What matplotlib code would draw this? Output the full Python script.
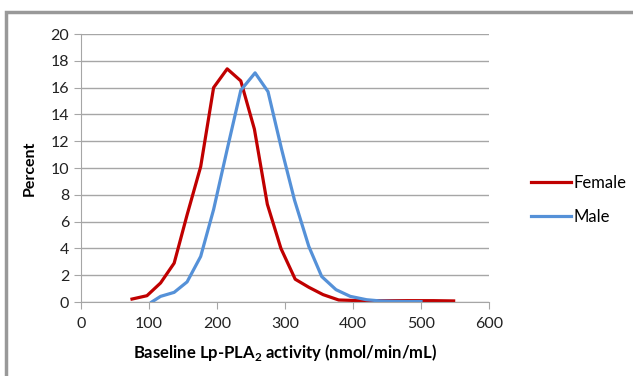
import matplotlib.pyplot as plt
from matplotlib.patches import Rectangle

plt.rcParams['font.family'] = ['Lato', 'DejaVu Sans']
plt.rcParams['mathtext.fontset'] = 'custom'
plt.rcParams['mathtext.rm'] = 'Lato'
plt.rcParams['mathtext.bf'] = 'Lato:bold'

# data
female_x = [75, 97, 117, 137, 156, 176, 195, 215, 235, 255, 274, 294, 315, 335, 356, 379,
            398, 418, 438, 458, 478, 498, 518, 548]
female_y = [0.22, 0.47, 1.42, 2.9, 6.5, 10.1, 16.0, 17.4, 16.5, 12.9, 7.3, 4.0, 1.7, 1.1, 0.55, 0.15,
            0.12, 0.1, 0.1, 0.1, 0.1, 0.1, 0.1, 0.08]
male_x = [104, 117, 137, 156, 176, 195, 215, 235, 256, 275, 295, 314, 335, 354, 375, 396,
          420, 440, 460, 480, 500]
male_y = [0.0, 0.42, 0.72, 1.5, 3.4, 6.9, 11.4, 15.8, 17.1, 15.7, 11.4, 7.6, 4.15, 1.9, 0.92, 0.42,
          0.17, 0.08, 0.05, 0.03, 0.03]
x_ticks = [0, 100, 200, 300, 400, 500, 600]
y_ticks = list(range(0, 21, 2))

grid_col = '#a6a6a6'

fig = plt.figure(figsize=(6.33, 3.76), dpi=100)
ax = fig.add_axes([81 / 633, 1 - 302 / 376, 408 / 633, 268 / 376])

ax.plot(female_x, female_y, color='#C00000', lw=2.3, label='Female')
ax.plot(male_x, male_y, color='#5591D8', lw=2.3, label='Male')

ax.set_xlim(0, 600)
ax.set_ylim(0, 20)
ax.set_xticks(x_ticks)
ax.set_yticks(y_ticks)
ax.yaxis.grid(True, color=grid_col, lw=1)
ax.set_axisbelow(True)
for s in ['top', 'right']:
    ax.spines[s].set_visible(False)
for s in ['left', 'bottom']:
    ax.spines[s].set_color(grid_col)
ax.tick_params(axis='both', colors=grid_col, labelcolor='#222222', labelsize=11.5, length=5)
ax.tick_params(axis='x', pad=6)

ax.set_ylabel('Percent', fontweight='bold', fontsize=11.5, labelpad=10)
ax.set_xlabel(r'Baseline Lp-PLA$_\mathbf{2}$ activity (nmol/min/mL)', fontweight='bold',
              fontsize=12, labelpad=8)

fig.legend(loc='center left', bbox_to_anchor=(516 / 633, 1 - 200 / 376), frameon=False,
           fontsize=12, handlelength=2.4, handletextpad=0.15, labelspacing=1.1)

# gray frame round the chart area
fig.patches.append(Rectangle((6 / 633, -0.1), 1.1, 1 - 12 / 376 + 0.1, transform=fig.transFigure,
                             fill=False, edgecolor='#999999', lw=2.5, clip_on=False))

plt.savefig('out.png', dpi=100)
plt.close()
